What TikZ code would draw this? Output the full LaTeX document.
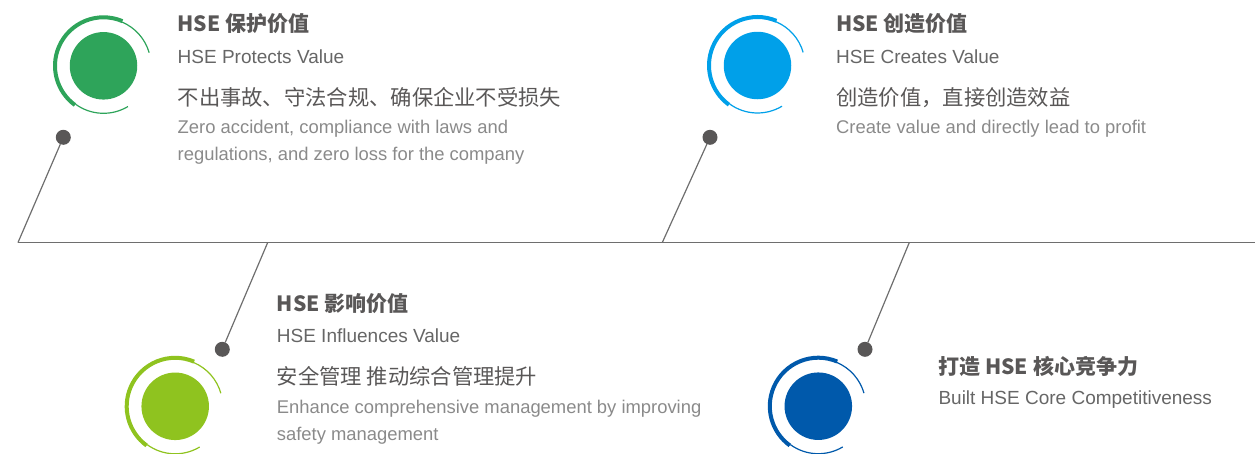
\documentclass[tikz,border=0pt]{standalone}
\usepackage{fontspec}
\setmainfont{Liberation Sans}
\newfontfamily\cjk{Noto Sans CJK SC}
\usetikzlibrary{calc}
\definecolor{protectgreen}{HTML}{2EA45A}
\definecolor{createblue}{HTML}{00A0E9}
\definecolor{influencelime}{HTML}{8FC31F}
\definecolor{competeblue}{HTML}{0059AB}
\definecolor{titlegray}{HTML}{595757}
\definecolor{subgray}{HTML}{666666}
\definecolor{bodygray}{HTML}{8A8A8A}
\definecolor{linegray}{HTML}{6E6E6E}
\tikzset{
every picture/.style={x=1pt, y=-1pt},
%%%%%%%%%%  Node styles
dotnode/.style={fill=titlegray, circle, minimum size=15pt, inner sep=0,
                outer sep=0},
core/.style={circle, fill=#1, minimum size=67.5pt, inner sep=0},
title/.style={anchor=base west, inner sep=0, text=titlegray,
              font=\cjk\bfseries\fontsize{21}{24}\selectfont},
subtitle/.style={anchor=base west, inner sep=0, text=subgray,
                 font=\fontsize{19}{22}\selectfont},
zhline/.style={anchor=base west, inner sep=0, text=titlegray,
               font=\cjk\fontsize{21.3}{25}\selectfont},
%% base of a two-line text is its last line
enline/.style={anchor=base west, inner sep=0, align=left, text=bodygray,
               font=\fontsize{18.4}{26.5}\selectfont},
%%%% different line styles:
timeline/.style={draw=linegray, line width=1.3pt},
connector/.style={draw=linegray, line width=1.2pt},
thick ring/.style={draw=#1, line width=4pt},
thin ring/.style={draw=#1, line width=1.2pt}
}
% ring round an icon: node, colour
\newcommand{\valring}[2]{%
  \draw[thick ring=#2] ($(#1)+(-67:48.5)$) arc[start angle=-67, end angle=-234, radius=48.5];
  \draw[thin ring=#2] ($(#1)+(-234:47.5)$) arc[start angle=-234, end angle=-301, radius=47.5];
  \draw[thin ring=#2] ($(#1)+(-16:47.5)$) arc[start angle=-16, end angle=-67, radius=47.5];
}

\begin{document}
\begin{tikzpicture}
\useasboundingbox (0,0) rectangle (1255,453);
% time line and pins
\coordinate (tl start) at (18,242.5);
\coordinate (tl end) at (1255,242.5);
\coordinate (foot2) at (662.3,242.5);
\coordinate (foot3) at (267.7,242.5);
\coordinate (foot4) at (909.3,242.5);
\draw[timeline] (tl start) -- (tl end);
\node[dotnode] (pin1) at (63.3,137.3) {};
\node[dotnode] (pin2) at (710,137.3) {};
\node[dotnode] (pin3) at (222.3,349.3) {};
\node[dotnode] (pin4) at (865,349.3) {};
\draw[connector] (pin1) -- (tl start);
\draw[connector] (pin2) -- (foot2);
\draw[connector] (pin3) -- (foot3);
\draw[connector] (pin4) -- (foot4);
% icons
\node[core=protectgreen] (protect) at (103.5,65.8) {};
\valring{protect}{protectgreen}
\node[core=createblue] (create) at (757.5,65.5) {};
\valring{create}{createblue}
\node[core=influencelime] (influence) at (175.2,406.3) {};
\valring{influence}{influencelime}
\node[core=competeblue] (compete) at (818.3,406.2) {};
\valring{compete}{competeblue}
% texts
\node[title] (protect title) at (177.5,31.7) {HSE 保护价值};
\node[subtitle] (protect sub) at (177.5,63.3) {HSE Protects Value};
\node[zhline] (protect zh) at (177.5,105.5) {不出事故、守法合规、确保企业不受损失};
\node[enline] (protect en) at (177.5,160)
     {Zero accident, compliance with laws and\\regulations, and zero loss for the company};
\node[title] (create title) at (836,31.7) {HSE 创造价值};
\node[subtitle] (create sub) at (836,63.3) {HSE Creates Value};
\node[zhline] (create zh) at (836,105.5) {创造价值，直接创造效益};
\node[enline] (create en) at (836,133.3) {Create value and directly lead to profit};
\node[title] (influence title) at (276.7,311.7) {HSE 影响价值};
\node[subtitle] (influence sub) at (276.7,342.3) {HSE Influences Value};
\node[zhline] (influence zh) at (276.7,384) {安全管理 推动综合管理提升};
\node[enline] (influence en) at (276.7,440)
     {Enhance comprehensive management by improving\\safety management};
\node[title] (compete title) at (938.3,374.3) {打造 HSE 核心竞争力};
\node[subtitle] (compete sub) at (938.3,404.3) {Built HSE Core Competitiveness};
\end{tikzpicture}
\end{document}
